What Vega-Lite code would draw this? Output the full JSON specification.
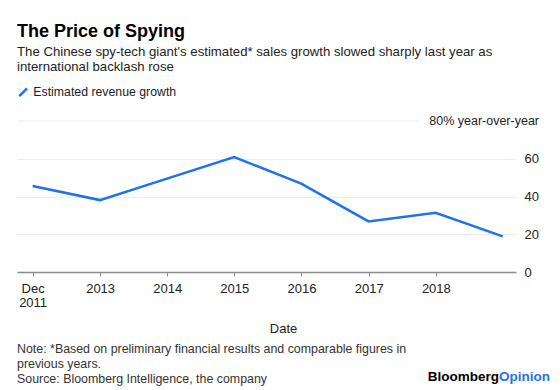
{
  "$schema": "https://vega.github.io/schema/vega-lite/v6.json",
  "padding": {"left": 16, "top": 22, "right": 4, "bottom": 2},
  "background": "white",
  "config": {
    "font": "Liberation Sans",
    "view": {"stroke": null},
    "axis": {"labelFont": "Liberation Sans", "titleFont": "Liberation Sans", "labelOverlap": false},
    "axisY": {"labelOverlap": false, "tickCount": 5}
  },
  "title": {
    "text": "The Price of Spying",
    "subtitle": ["The Chinese spy-tech giant's estimated* sales growth slowed sharply last year as", "international backlash rose"],
    "anchor": "start",
    "frame": "group",
    "fontSize": 18,
    "fontWeight": "bold",
    "color": "#000000",
    "subtitleFontSize": 13.2,
    "subtitleColor": "#222222",
    "subtitleLineHeight": 15,
    "subtitlePadding": 5,
    "offset": 13
  },
  "vconcat": [
    {
      "width": 499,
      "height": 151,
      "data": {
        "values": [
          {"date": "2011-12-31T00:00", "growth": 45.6},
          {"date": "2012-12-31T00:00", "growth": 38.1},
          {"date": "2013-12-31T00:00", "growth": 49.5},
          {"date": "2014-12-31T00:00", "growth": 60.9},
          {"date": "2015-12-31T00:00", "growth": 46.8},
          {"date": "2016-12-31T00:00", "growth": 26.8},
          {"date": "2017-12-31T00:00", "growth": 31.4},
          {"date": "2018-12-31T00:00", "growth": 18.9}
        ]
      },
      "layer": [
        {
          "mark": {"type": "line", "strokeWidth": 2.5, "strokeJoin": "miter"},
          "encoding": {
            "x": {
              "field": "date",
              "type": "temporal",
              "title": "Date",
              "scale": {"domain": [{"year": 2011, "month": 10, "date": 7}, {"year": 2019, "month": 3, "date": 13}]},
              "axis": {
                "values": [
                  {"year": 2011, "month": 12, "date": 31},
                  {"year": 2013, "month": 1, "date": 1},
                  {"year": 2014, "month": 1, "date": 1},
                  {"year": 2015, "month": 1, "date": 1},
                  {"year": 2016, "month": 1, "date": 1},
                  {"year": 2017, "month": 1, "date": 1},
                  {"year": 2018, "month": 1, "date": 1}
                ],
                "labelExpr": "month(datum.value) == 11 ? ['Dec', '2011'] : timeFormat(datum.value, '%Y')",
                "labelAlign": "center",
                "labelBaseline": "top",
                "labelFontSize": 13,
                "labelColor": "#222222",
                "labelPadding": 6,
                "labelLineHeight": 14,
                "labelOverlap": false,
                "domainColor": "#8c8c8c",
                "domainWidth": 1.5,
                "tickColor": "#8c8c8c",
                "tickSize": 4,
                "tickWidth": 1,
                "grid": false,
                "titleFontSize": 13,
                "titleFontWeight": "normal",
                "titleColor": "#222222",
                "titlePadding": 13,
                "titleX": 266
              }
            },
            "y": {
              "field": "growth",
              "type": "quantitative",
              "scale": {"domain": [0, 80]},
              "axis": {
                "orient": "right",
                "title": null,
                "values": [0, 20, 40, 60, 80],
                "tickCount": 5,
                "labelExpr": "datum.value == 80 ? '' : datum.label",
                "labelAlign": "left",
                "labelFontSize": 13,
                "labelColor": "#222222",
                "labelPadding": 8,
                "labelOverlap": false,
                "ticks": false,
                "domain": false,
                "grid": true,
                "gridColor": {"condition": {"test": "datum.value == 80 || datum.value == 0", "value": "transparent"}, "value": "#ececec"},
                "gridWidth": 1
              }
            },
            "color": {
              "datum": "Estimated revenue growth",
              "type": "nominal",
              "scale": {"range": ["#1f72e8"]},
              "legend": {
                "orient": "top",
                "title": null,
                "symbolType": "M-1,1L1,-1",
                "symbolStrokeWidth": 2.5,
                "symbolSize": 60,
                "labelFontSize": 12.3,
                "labelColor": "#222222",
                "offset": 13,
                "padding": 0
              }
            }
          }
        },
        {
          "data": {"values": [{}]},
          "mark": {"type": "rule", "color": "#ececec", "strokeWidth": 1},
          "encoding": {
            "x": {"datum": {"year": 2011, "month": 10, "date": 7}, "type": "temporal"},
            "x2": {"datum": {"year": 2017, "month": 10, "date": 1}},
            "y": {"datum": 80, "type": "quantitative"}
          }
        },
        {
          "data": {"values": [{}]},
          "mark": {"type": "text", "align": "right", "baseline": "middle", "dx": 23, "fontSize": 12.5, "color": "#222222"},
          "encoding": {
            "x": {"datum": {"year": 2019, "month": 3, "date": 13}, "type": "temporal"},
            "y": {"datum": 80, "type": "quantitative"},
            "text": {"value": "80% year-over-year"}
          }
        },
        {
          "data": {"values": [{}]},
          "mark": {"type": "text", "align": "left", "baseline": "top", "dy": 71, "fontSize": 12.4, "lineHeight": 15, "color": "#333333"},
          "encoding": {
            "x": {"datum": {"year": 2011, "month": 10, "date": 7}, "type": "temporal"},
            "y": {"datum": 0, "type": "quantitative"},
            "text": {"value": ["Note: *Based on preliminary financial results and comparable figures in", "previous years.", "Source: Bloomberg Intelligence, the company"]}
          }
        },
        {
          "data": {"values": [{}]},
          "mark": {"type": "text", "align": "right", "baseline": "middle", "dx": -17, "dy": 105, "fontSize": 13.5, "fontWeight": "bold", "color": "#000000"},
          "encoding": {
            "x": {"datum": {"year": 2019, "month": 3, "date": 13}, "type": "temporal"},
            "y": {"datum": 0, "type": "quantitative"},
            "text": {"value": "Bloomberg"}
          }
        },
        {
          "data": {"values": [{}]},
          "mark": {"type": "text", "align": "left", "baseline": "middle", "dx": -17, "dy": 105, "fontSize": 13.5, "fontWeight": "bold", "color": "#1f72e8"},
          "encoding": {
            "x": {"datum": {"year": 2019, "month": 3, "date": 13}, "type": "temporal"},
            "y": {"datum": 0, "type": "quantitative"},
            "text": {"value": "Opinion"}
          }
        }
      ]
    }
  ]
}
